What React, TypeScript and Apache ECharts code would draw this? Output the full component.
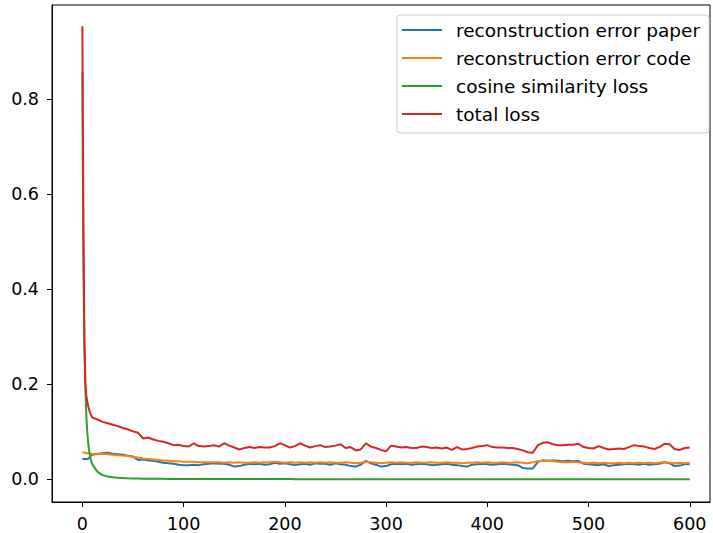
import React, { useEffect, useRef } from "react";
import * as echarts from "echarts";

const epochs = [
  0, 1, 2, 3, 4, 5, 6, 7, 8, 9, 10,
  15, 20, 25, 30, 35, 40, 45, 50, 55,
  60, 65, 70, 75, 80, 85, 90, 95, 100,
  105, 110, 115, 120, 125, 130, 135, 140, 145, 150,
  155, 160, 165, 170, 175, 180, 185, 190, 195, 200,
  205, 210, 215, 220, 225, 230, 235, 240, 245, 250,
  255, 260, 265, 270, 275, 280, 285, 290, 295, 300,
  305, 310, 315, 320, 325, 330, 335, 340, 345, 350,
  355, 360, 365, 370, 375, 380, 385, 390, 395, 400,
  405, 410, 415, 420, 425, 430, 435, 440, 445, 450,
  455, 460, 465, 470, 475, 480, 485, 490, 495, 500,
  505, 510, 515, 520, 525, 530, 535, 540, 545, 550,
  555, 560, 565, 570, 575, 580, 585, 590, 595, 600,
];

const reconPaper = [
  0.043, 0.043, 0.043, 0.043, 0.043, 0.043, 0.044, 0.046, 0.049, 0.051, 0.052,
  0.054, 0.055, 0.056, 0.054, 0.053, 0.052, 0.050, 0.048, 0.041,
  0.042, 0.040, 0.039, 0.037, 0.035, 0.034, 0.033, 0.031, 0.030,
  0.030, 0.031, 0.030, 0.032, 0.033, 0.034, 0.033, 0.033, 0.031, 0.027,
  0.028, 0.031, 0.033, 0.032, 0.033, 0.031, 0.032, 0.035, 0.033, 0.034,
  0.032, 0.030, 0.032, 0.033, 0.031, 0.034, 0.033, 0.033, 0.031, 0.034,
  0.032, 0.031, 0.028, 0.027, 0.031, 0.039, 0.034, 0.031, 0.027, 0.028,
  0.032, 0.033, 0.032, 0.033, 0.031, 0.032, 0.033, 0.032, 0.030, 0.031,
  0.032, 0.033, 0.031, 0.030, 0.028, 0.027, 0.031, 0.032, 0.033, 0.032,
  0.031, 0.032, 0.033, 0.032, 0.031, 0.030, 0.024, 0.023, 0.023, 0.037,
  0.040, 0.039, 0.040, 0.039, 0.038, 0.039, 0.038, 0.039, 0.033, 0.032,
  0.031, 0.030, 0.032, 0.028, 0.030, 0.031, 0.032, 0.033, 0.032, 0.031,
  0.033, 0.031, 0.032, 0.033, 0.036, 0.034, 0.028, 0.029, 0.032, 0.032,
];

const reconCode = [
  0.057, 0.057, 0.056, 0.056, 0.055, 0.055, 0.055, 0.054, 0.054, 0.054, 0.053,
  0.053, 0.054, 0.053, 0.052, 0.051, 0.050, 0.049, 0.047, 0.046,
  0.044, 0.043, 0.042, 0.041, 0.040, 0.039, 0.038, 0.038, 0.037,
  0.037, 0.037, 0.036, 0.036, 0.036, 0.036, 0.036, 0.035, 0.036, 0.035,
  0.036, 0.035, 0.035, 0.036, 0.035, 0.036, 0.036, 0.037, 0.036, 0.035,
  0.036, 0.035, 0.036, 0.035, 0.036, 0.035, 0.036, 0.035, 0.036, 0.035,
  0.035, 0.036, 0.035, 0.034, 0.035, 0.037, 0.036, 0.035, 0.034, 0.035,
  0.036, 0.035, 0.036, 0.035, 0.035, 0.036, 0.035, 0.035, 0.036, 0.035,
  0.035, 0.036, 0.035, 0.035, 0.034, 0.035, 0.035, 0.036, 0.035, 0.036,
  0.035, 0.035, 0.036, 0.035, 0.035, 0.036, 0.035, 0.034, 0.036, 0.038,
  0.040, 0.039, 0.038, 0.037, 0.036, 0.036, 0.037, 0.036, 0.035, 0.034,
  0.035, 0.034, 0.035, 0.034, 0.034, 0.035, 0.034, 0.035, 0.034, 0.035,
  0.034, 0.035, 0.034, 0.035, 0.036, 0.035, 0.034, 0.035, 0.034, 0.035,
];

const cosineLoss = [
  0.857, 0.45, 0.28, 0.19, 0.13, 0.095, 0.072, 0.056, 0.045, 0.037, 0.031,
  0.016, 0.009, 0.006, 0.0045, 0.0035, 0.0028, 0.0023, 0.002, 0.0018,
  0.0016, 0.0015, 0.0014, 0.0013, 0.0012, 0.0011, 0.0011, 0.001, 0.001,
  0.001, 0.0009, 0.0009, 0.0009, 0.0008, 0.0008, 0.0008, 0.0008, 0.0007, 0.0007,
  0.0007, 0.0007, 0.0007, 0.0006, 0.0006, 0.0006, 0.0006, 0.0006, 0.0006, 0.0006,
  0.0006, 0.0005, 0.0005, 0.0005, 0.0005, 0.0005, 0.0005, 0.0005, 0.0005, 0.0005,
  0.0005, 0.0005, 0.0005, 0.0005, 0.0005, 0.0005, 0.0005, 0.0005, 0.0005, 0.0005,
  0.0005, 0.0005, 0.0005, 0.0004, 0.0004, 0.0004, 0.0004, 0.0004, 0.0004, 0.0004,
  0.0004, 0.0004, 0.0004, 0.0004, 0.0004, 0.0004, 0.0004, 0.0004, 0.0004, 0.0004,
  0.0004, 0.0004, 0.0004, 0.0004, 0.0004, 0.0004, 0.0004, 0.0004, 0.0004, 0.0004,
  0.0004, 0.0004, 0.0004, 0.0003, 0.0003, 0.0003, 0.0003, 0.0003, 0.0003, 0.0003,
  0.0003, 0.0003, 0.0003, 0.0003, 0.0003, 0.0003, 0.0003, 0.0003, 0.0003, 0.0003,
  0.0003, 0.0003, 0.0003, 0.0003, 0.0003, 0.0003, 0.0003, 0.0003, 0.0003, 0.0003,
];

const totalLoss = [
  0.953, 0.55, 0.30, 0.20, 0.175, 0.162, 0.152, 0.144, 0.138, 0.133, 0.130,
  0.126, 0.121, 0.118, 0.115, 0.112, 0.108, 0.105, 0.101, 0.098,
  0.086, 0.088, 0.084, 0.081, 0.079, 0.076, 0.072, 0.073, 0.070,
  0.069, 0.076, 0.070, 0.069, 0.070, 0.072, 0.069, 0.076, 0.071, 0.067,
  0.063, 0.066, 0.068, 0.066, 0.068, 0.067, 0.067, 0.070, 0.076, 0.072,
  0.067, 0.070, 0.076, 0.071, 0.067, 0.070, 0.072, 0.068, 0.069, 0.071,
  0.074, 0.066, 0.068, 0.061, 0.063, 0.076, 0.069, 0.066, 0.062, 0.059,
  0.071, 0.069, 0.067, 0.068, 0.066, 0.066, 0.069, 0.068, 0.066, 0.067,
  0.065, 0.067, 0.062, 0.068, 0.063, 0.064, 0.066, 0.069, 0.070, 0.072,
  0.068, 0.067, 0.067, 0.066, 0.066, 0.064, 0.061, 0.057, 0.056, 0.072,
  0.077, 0.078, 0.074, 0.072, 0.072, 0.073, 0.073, 0.075, 0.068, 0.066,
  0.065, 0.070, 0.066, 0.063, 0.064, 0.065, 0.064, 0.068, 0.072, 0.070,
  0.069, 0.066, 0.064, 0.068, 0.075, 0.074, 0.064, 0.062, 0.066, 0.067,
];

const seriesNames = [
  "reconstruction error paper",
  "reconstruction error code",
  "cosine similarity loss",
  "total loss",
];
const seriesColors = ["#1f77b4", "#ff7f0e", "#2ca02c", "#d62728"];
const xTicks = [0, 100, 200, 300, 400, 500, 600];
const yTicks = [0, 0.2, 0.4, 0.6, 0.8];

const FONT = "DejaVu Sans";

export default function App() {
  const ref = useRef<HTMLDivElement>(null);
  useEffect(() => {
    if (!ref.current) return;
    const chart = echarts.init(ref.current, null, { renderer: "svg" });
    const values = [reconPaper, reconCode, cosineLoss, totalLoss];
    chart.setOption({
      animation: false,
      backgroundColor: "#ffffff",
      grid: {
        left: 52,
        right: 3,
        top: 5,
        bottom: 30,
        show: true,
        borderColor: "#000000",
        borderWidth: 1,
        backgroundColor: "transparent",
      },
      legend: {
        orient: "vertical",
        left: 397,
        top: 15,
        padding: [5, 9, 9, 5],
        itemWidth: 40,
        itemHeight: 2,
        itemGap: 8,
        icon: "rect",
        backgroundColor: "rgba(255,255,255,0.8)",
        borderColor: "#cccccc",
        borderWidth: 1,
        borderRadius: 3,
        textStyle: {
          fontFamily: FONT,
          fontSize: 18.5,
          color: "#000000",
          lineHeight: 20,
          padding: [0, 0, 0, 9],
        },
        data: seriesNames,
      },
      xAxis: {
        type: "value",
        min: -30,
        max: 620,
        splitLine: { show: false },
        axisLine: { show: true, onZero: false, lineStyle: { color: "#000", width: 1 } },
        axisTick: {
          show: true,
          inside: false,
          length: 5,
          customValues: xTicks,
          lineStyle: { color: "#000", width: 1 },
        },
        axisLabel: {
          customValues: xTicks,
          fontFamily: FONT,
          fontSize: 17.5,
          color: "#000",
          margin: 13,
        },
      },
      yAxis: {
        type: "value",
        min: -0.0475,
        max: 0.9975,
        splitLine: { show: false },
        axisLine: { show: true, onZero: false, lineStyle: { color: "#000", width: 1 } },
        axisTick: {
          show: true,
          inside: false,
          length: 5,
          customValues: yTicks,
          lineStyle: { color: "#000", width: 1 },
        },
        axisLabel: {
          customValues: yTicks,
          fontFamily: FONT,
          fontSize: 17.5,
          color: "#000",
          margin: 13,
          formatter: (v: number) => v.toFixed(1),
        },
      },
      series: seriesNames.map((name, i) => ({
        name,
        type: "line",
        data: epochs.map((e, j) => [e, values[i][j]]),
        showSymbol: false,
        symbol: "none",
        color: seriesColors[i],
        lineStyle: { color: seriesColors[i], width: 2 },
        z: 2 + i,
      })),
    });
    return () => chart.dispose();
  }, []);
  return (
    <div
      ref={ref}
      style={{ position: "fixed", left: 0, top: 0, width: 713, height: 533 }}
    />
  );
}
